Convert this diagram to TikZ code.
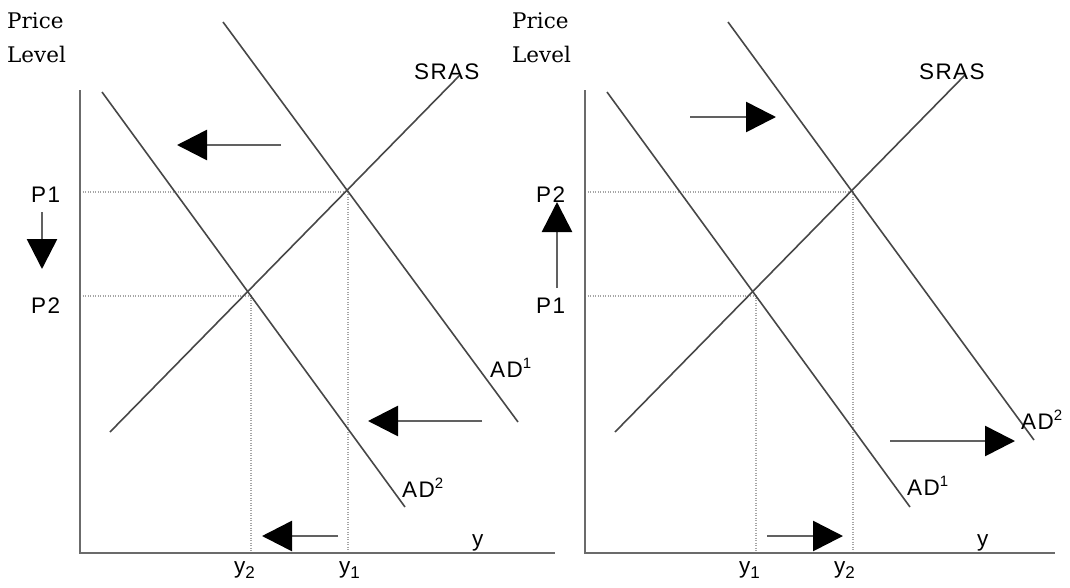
\documentclass[tikz,border=0pt]{standalone}
\usepackage{fontspec}
\setmainfont{DejaVu Serif}
\newfontfamily\labfont{Liberation Sans}[LetterSpace=6]
\usetikzlibrary{arrows.meta}
\newcommand{\lsub}[1]{\raisebox{-0.45ex}{\fontsize{17}{17}\selectfont #1}}
\newcommand{\lsup}[1]{\raisebox{0.75ex}{\fontsize{15}{15}\selectfont #1}}
\begin{document}
\begin{tikzpicture}[x=1pt,y=-1pt,
  curve/.style={draw=black!72, line width=1.6pt},
  axisline/.style={draw=black!58, line width=2.6pt},
  guide/.style={draw=black!35, line width=1.3pt, dash pattern=on 1.2pt off 1.3pt},
  shiftarrow/.style={draw=black!62, line width=2.6pt, -{Triangle[length=30pt,width=30pt,black]}},
  lbl/.style={font=\labfont\fontsize{22.5}{26}\selectfont, inner sep=0pt, anchor=base west},
  ttl/.style={font=\fontsize{21.5}{26}\selectfont, inner sep=0pt, anchor=base west}]
\useasboundingbox (0,0) rectangle (1070,587);
\fill[white] (0,0) rectangle (1070,587);

% ---------- LEFT PANEL ----------
\coordinate (LyTop) at (80,90);
\coordinate (LO) at (80,553);
\coordinate (LxEnd) at (555,553);
\coordinate (LsrasA) at (110,432);
\coordinate (LsrasB) at (460,75);
\coordinate (Lad1A) at (223,22);
\coordinate (Lad1B) at (518,422);
\coordinate (Lad2A) at (102,92);
\coordinate (Lad2B) at (405,507);
\coordinate (LE1) at (348,192);
\coordinate (LE2) at (251,296);
\coordinate (LP1) at (80,192);
\coordinate (LP2) at (80,296);
\coordinate (Ly1) at (348,553);
\coordinate (Ly2) at (251,553);

\draw[guide] (LP1) -- (LE1) -- (Ly1);
\draw[guide] (LP2) -- (LE2) -- (Ly2);
\draw[axisline] (LyTop) -- (LO) -- (LxEnd);
\draw[curve] (LsrasA) -- (LsrasB);
\draw[curve] (Lad1A) -- (Lad1B);
\draw[curve] (Lad2A) -- (Lad2B);

\coordinate (La1s) at (281,145); \coordinate (La1e) at (177,145);
\coordinate (La2s) at (482,421); \coordinate (La2e) at (368,421);
\coordinate (La3s) at (338,536); \coordinate (La3e) at (262,536);
\coordinate (La4s) at (42,212);  \coordinate (La4e) at (42,269);
\draw[shiftarrow] (La1s) -- (La1e);
\draw[shiftarrow] (La2s) -- (La2e);
\draw[shiftarrow] (La3s) -- (La3e);
\draw[shiftarrow] (La4s) -- (La4e);

\node[ttl] (Lprice) at (7,28) {Price};
\node[ttl] (Llevel) at (7,62) {Level};
\node[lbl] (LlabP1) at (31,202) {P1};
\node[lbl] (LlabP2) at (31,313) {P2};
\node[lbl] (Lsras) at (414,79) {SRAS};
\node[lbl] (LlabAD1) at (490,377) {AD\lsup{1}};
\node[lbl] (LlabAD2) at (402,497) {AD\lsup{2}};
\node[lbl] (Llaby2) at (234,573) {y\lsub{2}};
\node[lbl] (Llaby1) at (339,573) {y\lsub{1}};
\node[lbl] (Llaby) at (472,546) {y};

% ---------- RIGHT PANEL ----------
\coordinate (RyTop) at (585,90);
\coordinate (RO) at (585,553);
\coordinate (RxEnd) at (1055,553);
\coordinate (RsrasA) at (615,432);
\coordinate (RsrasB) at (965,75);
\coordinate (Rad1A) at (607,92);
\coordinate (Rad1B) at (910,507);
\coordinate (Rad2A) at (728,22);
\coordinate (Rad2B) at (1034,440);
\coordinate (RE2) at (853,192);
\coordinate (RE1) at (756,296);
\coordinate (RP2) at (585,192);
\coordinate (RP1) at (585,296);
\coordinate (Ry2) at (853,553);
\coordinate (Ry1) at (756,553);

\draw[guide] (RP2) -- (RE2) -- (Ry2);
\draw[guide] (RP1) -- (RE1) -- (Ry1);
\draw[axisline] (RyTop) -- (RO) -- (RxEnd);
\draw[curve] (RsrasA) -- (RsrasB);
\draw[curve] (Rad1A) -- (Rad1B);
\draw[curve] (Rad2A) -- (Rad2B);

\coordinate (Ra1s) at (690,117); \coordinate (Ra1e) at (776,117);
\coordinate (Ra2s) at (890,441); \coordinate (Ra2e) at (1015,441);
\coordinate (Ra3s) at (767,536); \coordinate (Ra3e) at (843,536);
\coordinate (Ra4s) at (557,288); \coordinate (Ra4e) at (557,202);
\draw[shiftarrow] (Ra1s) -- (Ra1e);
\draw[shiftarrow] (Ra2s) -- (Ra2e);
\draw[shiftarrow] (Ra3s) -- (Ra3e);
\draw[shiftarrow] (Ra4s) -- (Ra4e);

\node[ttl] (Rprice) at (512,28) {Price};
\node[ttl] (Rlevel) at (512,62) {Level};
\node[lbl] (RlabP2) at (536,202) {P2};
\node[lbl] (RlabP1) at (536,313) {P1};
\node[lbl] (Rsras) at (919,79) {SRAS};
\node[lbl] (RlabAD1) at (907,495) {AD\lsup{1}};
\node[lbl] (RlabAD2) at (1021,429) {AD\lsup{2}};
\node[lbl] (Rlaby1) at (739,573) {y\lsub{1}};
\node[lbl] (Rlaby2) at (834,573) {y\lsub{2}};
\node[lbl] (Rlaby) at (977,546) {y};
\end{tikzpicture}
\end{document}
